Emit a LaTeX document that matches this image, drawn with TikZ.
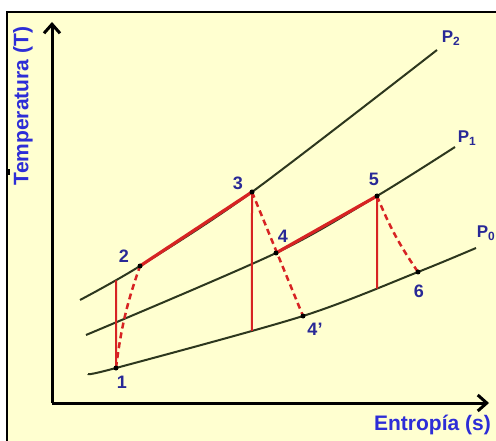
\documentclass[tikz,border=0pt]{standalone}
\usepackage{fontspec}
\setmainfont{Liberation Sans}
\usetikzlibrary{arrows.meta,intersections}
\definecolor{paper}{RGB}{255,255,208}
\definecolor{isobar}{RGB}{45,55,30}
\definecolor{cyc}{RGB}{215,35,35}
\definecolor{numblue}{RGB}{40,40,150}
\definecolor{axblue}{RGB}{45,45,215}

\begin{document}
\begin{tikzpicture}[x=1pt,y=-1pt,
    isob/.style={isobar, line width=2pt},
    ideal/.style={cyc, line width=2pt},
    heat/.style={cyc, line width=3.2pt},
    real/.style={cyc, line width=2.5pt, dash pattern=on 6pt off 4pt},
    axis/.style={line width=3pt, -{Straight Barb[length=9pt,width=16pt,line width=3pt]}},
    num/.style={text=numblue, font=\bfseries\fontsize{18}{18}\selectfont, inner sep=0pt},
    pres/.style={text=numblue, font=\bfseries\fontsize{17}{17}\selectfont, inner sep=0pt},
    axlab/.style={text=axblue, font=\bfseries\fontsize{21}{21}\selectfont, inner sep=0pt}
]
\useasboundingbox (0,0) rectangle (496,441);
\fill[white] (0,0) rectangle (496,441);
\fill[paper] (7,12) rectangle (496,441);
\draw[line width=2.5pt] (7,441) -- (7,12) -- (496,12);
\fill (7,169) rectangle (10,175);

% state points
\coordinate (s1) at (116,368);
\coordinate (s2) at (140,266);
\coordinate (s3) at (252,192);
\coordinate (s4) at (276,253);
\coordinate (s4p) at (303,316);
\coordinate (s5) at (377,196);
\coordinate (s6) at (418,272);

% isobars
\draw[isob, name path=p2] plot[smooth] coordinates {(80,300) (s2) (s3) (437,50)};
\draw[isob, name path=p1] plot[smooth] coordinates {(86,335) (s4) (s5) (455,147)};
\draw[isob, name path=p0] plot[smooth] coordinates {(88,374) (s1) (s4p) (s6) (476,248)};

% feet of the ideal (vertical) steps
\path[name path=v1] (s1) -- ++(0,-150);
\path[name path=v3] (s3) -- ++(0,200);
\path[name path=v5] (s5) -- ++(0,200);
\path[name intersections={of=p2 and v1, by=f2}];
\path[name intersections={of=p0 and v3, by=f3}];
\path[name intersections={of=p0 and v5, by=f5}];

% cycle
\draw[ideal] (s1) -- (f2);
\draw[ideal] (s3) -- (f3);
\draw[ideal] (s5) -- (f5);
\draw[real] (s1) to[bend left=6] (s2);
\draw[real] (s3) -- (s4p);
\draw[real] (s5) to[bend right=6] (s6);
\draw[heat] (s2) -- (s3);
\draw[heat] (s4) -- (s5);
\foreach \p in {s1,s2,s3,s4,s4p,s5,s6}
  \fill (\p) circle (2.5pt);

% axes
\coordinate (O) at (52,403);
\draw[axis] (O) -- (52,22);
\draw[axis] (O) -- (489,403);
\node[axlab, rotate=90] (ylab) at (23,106) {Temperatura (T)};
\node[axlab, anchor=east] (xlab) at (491,425) {Entropía (s)};

% labels
\node[num] (t1) at (122,382) {1};
\node[num] (t2) at (124,256) {2};
\node[num] (t3) at (238,183) {3};
\node[num] (t4) at (283,236) {4};
\node[num] (t4p) at (315,329) {4'};
\node[num] (t5) at (374,179) {5};
\node[num] (t6) at (419,291) {6};
\node[pres] (lp2) at (451,38) {P\textsubscript{2}};
\node[pres] (lp1) at (467,138) {P\textsubscript{1}};
\node[pres] (lp0) at (486,233) {P\textsubscript{0}};
\end{tikzpicture}
\end{document}
